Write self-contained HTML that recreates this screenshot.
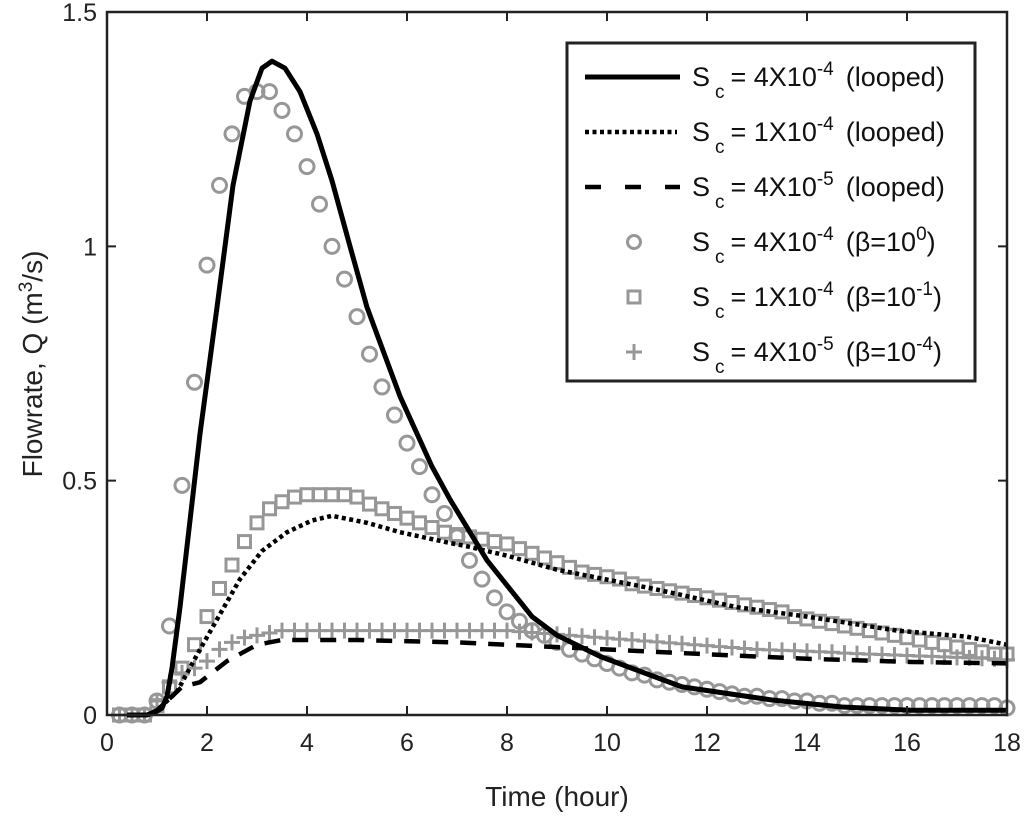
<!DOCTYPE html>
<html><head><meta charset="utf-8"><style>
html,body{margin:0;padding:0;background:#fff;}
svg{display:block;font-family:"Liberation Sans",Arial,sans-serif;}
</style></head><body>
<svg id="chart" width="1024" height="817" viewBox="0 0 1024 817" xmlns="http://www.w3.org/2000/svg">
<rect x="0" y="0" width="1024" height="817" fill="#fff"/>
<g id="marks"></g>
<g id="axes"></g>
<text x="557" y="806" font-size="28" text-anchor="middle" fill="#222">Time (hour)</text>
<text transform="translate(42,364) rotate(-90)" font-size="28" text-anchor="middle" fill="#222">Flowrate, Q (m<tspan dy="-10" font-size="19">3</tspan><tspan dy="10">/s)</tspan></text>
<g id="legend"></g>
</svg>
<script>
const xTicks=[0,2,4,6,8,10,12,14,16,18];
const yTicks=[0,0.5,1,1.5];
const yTickLabels=["0","0.5","1","1.5"];
const solidT=[0.4,0.8,0.95,1.1,1.2,1.3,1.46,1.86,2.2,2.52,2.86,3.1,3.3,3.56,3.86,4.2,4.5,4.86,5.2,5.86,6.5,6.86,7.6,8.5,9.0,9.86,11.5,13.3,14.7,16.1,18];
const solidQ=[0,0,0.005,0.015,0.04,0.1,0.23,0.6,0.87,1.13,1.31,1.38,1.395,1.38,1.33,1.24,1.14,1.0,0.87,0.68,0.53,0.46,0.33,0.21,0.17,0.125,0.06,0.032,0.017,0.01,0.01];
const dotT=[0.8,1.0,1.4,1.86,2.26,2.66,3.1,3.6,4.1,4.5,5.2,5.86,6.86,7.2,8,9,10.9,12.6,14,15.8,17.2,18];
const dotQ=[0,0.01,0.05,0.14,0.215,0.29,0.35,0.39,0.415,0.425,0.41,0.39,0.367,0.36,0.34,0.31,0.27,0.23,0.21,0.18,0.167,0.15];
const dashT=[0.8,1.0,1.3,1.5,1.86,2.4,3.0,3.5,5,7,9.4,11.5,14,16.1,18];
const dashQ=[0,0.01,0.04,0.06,0.07,0.115,0.15,0.16,0.16,0.155,0.143,0.132,0.12,0.113,0.11];
const markerT=[0.25,0.5,0.75,1,1.25,1.5,1.75,2,2.25,2.5,2.75,3,3.25,3.5,3.75,4,4.25,4.5,4.75,5,5.25,5.5,5.75,6,6.25,6.5,6.75,7,7.25,7.5,7.75,8,8.25,8.5,8.75,9,9.25,9.5,9.75,10,10.25,10.5,10.75,11,11.25,11.5,11.75,12,12.25,12.5,12.75,13,13.25,13.5,13.75,14,14.25,14.5,14.75,15,15.25,15.5,15.75,16,16.25,16.5,16.75,17,17.25,17.5,17.75,18];
const circleQ=[0,0,0,0.03,0.19,0.49,0.71,0.96,1.13,1.24,1.32,1.33,1.33,1.29,1.24,1.17,1.09,1.0,0.93,0.85,0.77,0.70,0.64,0.58,0.53,0.47,0.43,0.38,0.33,0.29,0.25,0.22,0.20,0.18,0.17,0.155,0.14,0.13,0.12,0.11,0.10,0.09,0.085,0.075,0.07,0.065,0.06,0.055,0.05,0.045,0.04,0.04,0.035,0.035,0.03,0.03,0.025,0.025,0.02,0.02,0.02,0.02,0.02,0.02,0.02,0.02,0.02,0.02,0.02,0.02,0.02,0.015];
const squareQ=[0,0,0,0.02,0.06,0.10,0.15,0.21,0.27,0.32,0.37,0.41,0.44,0.455,0.465,0.47,0.47,0.47,0.47,0.465,0.45,0.44,0.43,0.42,0.41,0.40,0.39,0.385,0.38,0.375,0.37,0.365,0.355,0.345,0.335,0.325,0.315,0.305,0.30,0.295,0.29,0.28,0.275,0.27,0.265,0.26,0.255,0.25,0.245,0.24,0.235,0.23,0.225,0.22,0.21,0.205,0.20,0.195,0.19,0.185,0.18,0.175,0.17,0.165,0.16,0.155,0.15,0.145,0.14,0.135,0.13,0.13];
const plusQ=[0,0,0,0.03,0.07,0.09,0.10,0.115,0.14,0.155,0.165,0.17,0.175,0.18,0.18,0.18,0.18,0.18,0.18,0.18,0.18,0.18,0.18,0.18,0.18,0.18,0.18,0.18,0.18,0.18,0.18,0.18,0.178,0.176,0.174,0.172,0.17,0.168,0.166,0.164,0.162,0.16,0.158,0.156,0.154,0.152,0.15,0.148,0.146,0.144,0.142,0.14,0.139,0.138,0.137,0.136,0.135,0.134,0.132,0.131,0.13,0.129,0.128,0.127,0.126,0.125,0.124,0.123,0.122,0.121,0.12,0.118];

const NS="http://www.w3.org/2000/svg";
const X0=107,X1=1007,Y0=715,Y1=12;
function sx(t){return X0+(t-0)/18*(X1-X0);}
function sy(q){return Y0-(q/1.5)*(Y0-Y1);}
function mk(tag,attrs,parent){const e=document.createElementNS(NS,tag);for(const k in attrs)e.setAttribute(k,attrs[k]);parent.appendChild(e);return e;}
const marks=document.getElementById('marks');
const axes=document.getElementById('axes');
const gray="#979797";

markerT.forEach((t,i)=>{
  const c=mk('circle',{cx:sx(t),cy:sy(circleQ[i]),r:7,fill:'none',stroke:gray,'stroke-width':3},marks);
  
  
});
markerT.forEach((t,i)=>{
  const s=mk('rect',{x:sx(t)-6,y:sy(squareQ[i])-6,width:12,height:12,fill:'none',stroke:gray,'stroke-width':3},marks);
  
  
});
markerT.forEach((t,i)=>{
  const x=sx(t),y=sy(plusQ[i]);
  const p=mk('path',{d:`M${x-8},${y}H${x+8}M${x},${y-8}V${y+8}`,stroke:gray,'stroke-width':3,fill:'none'},marks);
  
  
});
function line(T,Q,dash,w,name){
  const d=T.map((t,i)=>(i?'L':'M')+sx(t).toFixed(1)+','+sy(Q[i]).toFixed(1)).join('');
  const attrs={d:d,fill:'none',stroke:'#000','stroke-width':w,'stroke-linejoin':'round'};
  if(dash)attrs['stroke-dasharray']=dash;
  const p=mk('path',attrs,marks);
  
  
}
line(dashT,dashQ,'16,12',4.5,'line-sc-4e-5');
line(dotT,dotQ,'4,3.5',4.5,'line-sc-1e-4');
line(solidT,solidQ,null,5,'line-sc-4e-4');

const frame=mk('rect',{x:X0,y:Y1,width:X1-X0,height:Y0-Y1,fill:'none',stroke:'#222','stroke-width':2.5},axes);


xTicks.forEach(t=>{
  const x=sx(t);
  mk('path',{d:`M${x},${Y0}V${Y0-9}M${x},${Y1}V${Y1+9}`,stroke:'#222','stroke-width':2},axes);
  const tx=mk('text',{x:x,y:Y0+36,'font-size':25,'text-anchor':'middle',fill:'#222'},axes);
  tx.textContent=String(t);
  
  
});
yTicks.forEach((q,i)=>{
  const y=sy(q);
  mk('path',{d:`M${X0},${y}H${X0+9}M${X1},${y}H${X1-9}`,stroke:'#222','stroke-width':2},axes);
  const tx=mk('text',{x:X0-10,y:y+9,'font-size':25,'text-anchor':'end',fill:'#222'},axes);
  tx.textContent=yTickLabels[i];
  
  
});

const lg=document.getElementById('legend');
mk('rect',{x:567,y:43,width:408,height:338,fill:'#fff',stroke:'#222','stroke-width':3},lg);
const legendExp=["-4","-4","-5","-4","-4","-5"];
const legendNum=["4","1","4","4","1","4"];
const legendTail=[["(looped)",null],["(looped)",null],["(looped)",null],["(\u03B2=10","0"],["(\u03B2=10","-1"],["(\u03B2=10","-4"]];
for(let i=0;i<6;i++){
  const y=77+i*55;
  const g=mk('g',{},lg);
  
  
  if(i===0)mk('path',{d:`M585,${y}H680`,stroke:'#000','stroke-width':5},g);
  if(i===1)mk('path',{d:`M585,${y}H677`,stroke:'#000','stroke-width':4.5,'stroke-dasharray':'4,3.5'},g);
  if(i===2)mk('path',{d:`M585,${y}H680`,stroke:'#000','stroke-width':4.5,'stroke-dasharray':'16,24'},g);
  if(i===3)mk('circle',{cx:634,cy:y,r:6.5,fill:'none',stroke:gray,'stroke-width':3},g);
  if(i===4)mk('rect',{x:628,y:y-6,width:12,height:12,fill:'none',stroke:gray,'stroke-width':3},g);
  if(i===5)mk('path',{d:`M626,${y}H642M634,${y-8}V${y+8}`,stroke:gray,'stroke-width':3},g);
  const t=mk('text',{x:692,y:y+9,'font-size':27,fill:'#111'},g);
  let html=`S<tspan dx="5" dy="12" font-size="19">c</tspan><tspan dx="6" dy="-12">= ${legendNum[i]}X10</tspan><tspan dy="-11" font-size="19">${legendExp[i]}</tspan><tspan dx="12" dy="11">${legendTail[i][0]}</tspan>`;
  if(legendTail[i][1]!==null)html+=`<tspan dy="-11" font-size="19">${legendTail[i][1]}</tspan><tspan dy="11">)</tspan>`;
  t.innerHTML=html;
}
</script>
</body></html>
